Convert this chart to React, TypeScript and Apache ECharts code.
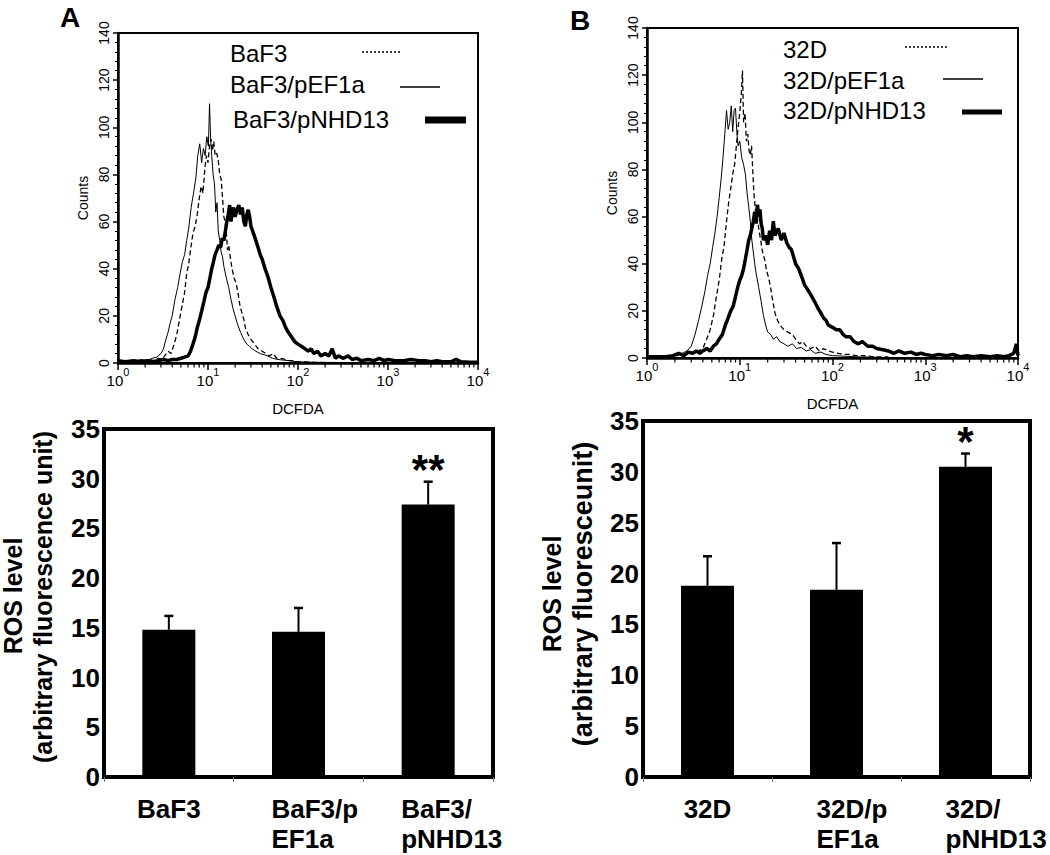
import React, { useEffect, useRef } from "react";
import * as echarts from "echarts";

// ---------- Panel A histogram (DCFDA, log scale) ----------
const histA_BaF3: number[][] = [
  [1.0, 1], [1.3, 0.5], [1.6, 1], [1.9, 0.5], [2.2, 1.5], [2.5, 1], [2.8, 2], [3.1, 1.5], [3.3, 3],
  [3.6, 5], [3.9, 4], [4.2, 8], [4.5, 12], [4.8, 18], [5.2, 25], [5.5, 30], [5.8, 38], [6.1, 42],
  [6.4, 48], [6.8, 55], [7.2, 58], [7.6, 63], [8.0, 70], [8.4, 75], [8.8, 72], [9.2, 82], [9.6, 88],
  [10.0, 85], [10.4, 92], [10.8, 95], [11.2, 90], [11.6, 94], [12.0, 88], [12.5, 89], [13.0, 86],
  [13.5, 80], [14.0, 78], [14.5, 70], [15.0, 62], [15.5, 60], [16.0, 55], [16.5, 48], [17.0, 50],
  [17.5, 46], [18.5, 40], [19.5, 36], [20.5, 34], [21.5, 30], [22.5, 25], [23.5, 22], [24.5, 20],
  [26, 15], [28, 12], [30, 10], [33, 8], [36, 6], [40, 5], [44, 4], [48, 3], [53, 4], [58, 2],
  [65, 2], [72, 1.5], [80, 1], [90, 1], [100, 0.5], [120, 0.5], [150, 0.3], [200, 0.2], [400, 0.2]
];
const histA_pEF1a: number[][] = [
  [1.0, 0.5], [1.2, 1], [1.5, 0.5], [1.8, 1.5], [2.1, 1], [2.4, 2], [2.7, 2.5], [3.0, 4], [3.2, 6],
  [3.4, 10], [3.6, 13], [3.8, 17], [4.0, 20], [4.3, 27], [4.6, 32], [4.9, 38], [5.2, 43], [5.5, 46],
  [5.8, 52], [6.1, 57], [6.5, 66], [6.9, 72], [7.3, 78], [7.7, 88], [8.1, 93], [8.5, 85], [8.9, 91],
  [9.3, 88], [9.7, 96], [10.1, 92], [10.4, 110], [10.7, 95], [11.0, 88], [11.4, 80], [11.8, 76],
  [12.2, 64], [12.6, 68], [13.0, 56], [13.5, 52], [14.0, 47], [14.5, 45], [15.0, 41], [16, 36],
  [17, 32], [18, 27], [19, 23], [20, 20], [21.5, 16], [23, 13], [25, 10], [27, 8], [29, 7], [31, 6],
  [34, 5], [38, 4], [42, 3.5], [46, 3], [52, 2], [60, 1.5], [70, 1.2], [80, 1], [100, 0.5],
  [150, 0.3], [300, 0.2]
];
const histA_pNHD13: number[][] = [
  [1.0, 1], [1.2, 0.5], [1.5, 1], [1.8, 0.5], [2.1, 1], [2.4, 0.5], [2.8, 1], [3.2, 1.5], [3.6, 1],
  [4.0, 1.5], [4.5, 1.5], [5.0, 2], [5.5, 2.5], [6.0, 3], [6.4, 5], [6.8, 8], [7.2, 11], [7.6, 15],
  [8.0, 18], [8.5, 22], [9.0, 26], [9.5, 30], [10.0, 32], [10.5, 36], [11.0, 40], [11.5, 43],
  [12.0, 46], [12.6, 48], [13.2, 50], [13.8, 49], [14.4, 53], [15.0, 52], [15.6, 56], [16.2, 60],
  [16.8, 63], [17.4, 67], [18.0, 60], [18.6, 64], [19.2, 66], [20, 62], [21, 65], [22, 67], [23, 63],
  [24, 66], [25, 60], [26, 58], [27, 63], [28, 65], [29, 62], [30, 58], [32, 55], [34, 52], [36, 49],
  [38, 46], [40, 44], [43, 40], [46, 37], [50, 32], [54, 28], [58, 24], [63, 20], [68, 18], [73, 15],
  [78, 13], [85, 11], [92, 9], [100, 8], [110, 7], [120, 6], [130, 5], [140, 6], [150, 4], [165, 5],
  [180, 3], [200, 4], [220, 3], [240, 6], [260, 2], [280, 3], [320, 2], [360, 3], [400, 1.5],
  [450, 2], [500, 1], [600, 1.5], [700, 1], [800, 2], [900, 1], [1000, 1.5], [1200, 1], [1500, 1],
  [1800, 1.5], [2200, 1], [2600, 1], [3000, 0.5], [3500, 1], [4000, 0.5], [5000, 0.5], [5700, 1.5],
  [6500, 0.5], [8000, 0.3], [10000, 0.3]
];

// ---------- Panel B histogram ----------
const histB_32D: number[][] = [
  [1.3, 0.5], [1.6, 0.5], [2.0, 1], [2.4, 1], [2.8, 2], [3.2, 2], [3.6, 3], [4.0, 4], [4.4, 8],
  [4.8, 12], [5.2, 18], [5.6, 26], [6.0, 33], [6.4, 42], [6.8, 48], [7.2, 58], [7.6, 66], [8.0, 72],
  [8.4, 78], [8.8, 82], [9.2, 90], [9.6, 98], [10.0, 104], [10.4, 112], [10.7, 122], [11.0, 100],
  [11.4, 104], [11.8, 92], [12.2, 95], [12.6, 88], [13.0, 86], [13.4, 90], [13.8, 80], [14.2, 70],
  [14.8, 62], [15.4, 60], [16.0, 55], [16.8, 50], [17.6, 45], [18.5, 42], [19.5, 37], [20.5, 34],
  [21.5, 30], [22.5, 25], [24, 19], [25.5, 16], [27, 14], [30, 12], [33, 11], [37, 10], [40, 8],
  [44, 6], [48, 7], [52, 5], [58, 4], [65, 5], [72, 3], [80, 4], [90, 3], [100, 2.5], [115, 2],
  [130, 1.5], [150, 1.5], [180, 1], [220, 1], [300, 0.5], [400, 0.5]
];
const histB_pEF1a: number[][] = [
  [1.0, 0], [1.5, 0.5], [1.8, 1], [2.1, 1.5], [2.4, 2], [2.7, 3], [3.0, 5], [3.3, 10], [3.6, 16],
  [3.9, 22], [4.2, 28], [4.5, 35], [4.8, 40], [5.1, 47], [5.4, 53], [5.7, 60], [6.0, 68], [6.3, 76],
  [6.6, 85], [6.9, 95], [7.2, 105], [7.5, 97], [7.8, 100], [8.1, 107], [8.4, 96], [8.7, 105],
  [9.0, 106], [9.3, 96], [9.6, 90], [10.0, 92], [10.5, 85], [11.0, 82], [11.5, 78], [12.0, 70],
  [12.5, 64], [13.0, 58], [13.5, 50], [14.0, 45], [14.5, 40], [15.0, 36], [16, 30], [17, 24],
  [18, 18], [19, 14], [20, 11], [21.5, 10], [23, 8], [25, 9], [27, 7], [30, 6], [33, 5], [37, 6],
  [41, 4], [46, 4.5], [52, 3], [58, 3.5], [65, 2], [75, 2.5], [85, 1.5], [100, 1], [130, 0.8],
  [180, 0.5], [300, 0.3]
];
const histB_pNHD13: number[][] = [
  [1.0, 0.5], [1.3, 0.5], [1.6, 0.5], [1.9, 1], [2.2, 2], [2.5, 1], [2.8, 2.5], [3.1, 2], [3.4, 3],
  [3.7, 2], [4.0, 3], [4.4, 4], [4.8, 3], [5.2, 5], [5.6, 6], [6.0, 8], [6.5, 10], [7.0, 14],
  [7.5, 17], [8.0, 20], [8.5, 22], [9.0, 26], [9.5, 30], [10.0, 33], [10.5, 35], [11.0, 38],
  [11.5, 42], [12.0, 46], [12.5, 50], [13.0, 52], [13.5, 55], [14.0, 58], [14.5, 62], [15.0, 57],
  [15.5, 65], [16.0, 60], [16.5, 63], [17.0, 57], [17.5, 55], [18.0, 50], [19, 52], [20, 48],
  [21, 54], [22, 50], [23, 58], [24, 52], [26, 55], [28, 50], [30, 53], [32, 49], [34, 47],
  [36, 46], [38, 43], [40, 40], [43, 38], [46, 35], [50, 31], [54, 29], [58, 27], [62, 25],
  [66, 23], [70, 21], [75, 19], [80, 17], [85, 16], [90, 14], [100, 13], [110, 12], [120, 12],
  [130, 10], [140, 9], [155, 9], [170, 7], [190, 6], [210, 7], [240, 5], [270, 5], [300, 4],
  [350, 3.5], [400, 3], [460, 2], [520, 3], [600, 2], [700, 2.5], [800, 1.5], [900, 2], [1000, 1.5],
  [1200, 1], [1400, 1.5], [1700, 1], [2000, 1.5], [2400, 0.5], [2800, 1], [3300, 0.5], [4000, 1],
  [5000, 0.5], [6000, 1], [7000, 0.5], [8000, 1], [9000, 2], [9600, 6], [10000, 1]
];

// log-axis minor tick positions (2..9 of each decade)
const logMinorTicks = [
  2, 3, 4, 5, 6, 7, 8, 9, 20, 30, 40, 50, 60, 70, 80, 90,
  200, 300, 400, 500, 600, 700, 800, 900, 2000, 3000, 4000, 5000, 6000, 7000, 8000, 9000
];

// ---------- Bar charts ----------
const barCatsA = ["BaF3", "BaF3/p\nEF1a", "BaF3/\npNHD13"];
const barValsA = [14.8, 14.6, 27.4];
const barErrA = [1.4, 2.4, 2.3];
const barSigA = ["", "", "**"];

const barCatsB = ["32D", "32D/p\nEF1a", "32D/\npNHD13"];
const barValsB = [18.8, 18.4, 30.5];
const barErrB = [2.9, 4.6, 1.3];
const barSigB = ["", "", "*"];

const legendA = ["BaF3", "BaF3/pEF1a", "BaF3/pNHD13"];
const legendB = ["32D", "32D/pEF1a", "32D/pNHD13"];

const SANS = '"Liberation Sans", Arial, Helvetica, sans-serif';

function histXAxis(gridIndex: number) {
  return {
    type: "log",
    logBase: 10,
    gridIndex,
    min: 1,
    max: 10000,
    name: "DCFDA",
    nameLocation: "middle",
    nameGap: 38,
    nameTextStyle: { fontFamily: SANS, fontSize: 15, color: "#000" },
    axisLine: { show: true, onZero: false, lineStyle: { color: "#000", width: 2.5 } },
    axisTick: { show: true, length: 7, lineStyle: { color: "#000", width: 1.5 } },
    splitLine: { show: false },
    axisLabel: {
      margin: 3,
      color: "#000",
      formatter: (v: number) => `{b|10}{s|${Math.round(Math.log10(v))}}`,
      rich: {
        b: { fontFamily: SANS, fontSize: 15, color: "#000", lineHeight: 22, verticalAlign: "bottom" },
        s: { fontFamily: SANS, fontSize: 11, color: "#000", lineHeight: 12, verticalAlign: "top" }
      }
    }
  };
}

function histYAxis(gridIndex: number) {
  return {
    type: "value",
    gridIndex,
    min: 0,
    max: 140,
    interval: 20,
    name: "Counts",
    nameLocation: "middle",
    nameGap: 28,
    nameRotate: 90,
    nameTextStyle: { fontFamily: SANS, fontSize: 14, color: "#000" },
    axisLine: { show: true, lineStyle: { color: "#000", width: 2.5 } },
    axisTick: { show: true, length: 5, lineStyle: { color: "#000", width: 1.5 } },
    minorTick: { show: true, splitNumber: 5, length: 3, lineStyle: { color: "#000", width: 1 } },
    splitLine: { show: false },
    axisLabel: { rotate: 90, margin: 7, fontFamily: SANS, fontSize: 14, color: "#000" }
  };
}

function barXAxis(gridIndex: number, cats: string[], w: number) {
  return {
    type: "category",
    gridIndex,
    data: cats,
    axisLine: { show: false },
    axisTick: { show: true, length: 5, lineStyle: { color: "#777", width: 1 } },
    axisLabel: {
      margin: 17,
      color: "#000",
      formatter: (v: string) =>
        v.indexOf("\n") >= 0
          ? v.split("\n").map((l) => `{l|${l}}`).join("\n")
          : `{c|${v}}`,
      rich: {
        l: { width: w, align: "left", fontFamily: SANS, fontWeight: "bold", fontSize: 26, lineHeight: 30, color: "#000" },
        c: { fontFamily: SANS, fontWeight: "bold", fontSize: 26, lineHeight: 30, color: "#000" }
      }
    }
  };
}

function barYAxis(gridIndex: number) {
  return {
    type: "value",
    gridIndex,
    min: 0,
    max: 35,
    interval: 5,
    axisLine: { show: false },
    axisTick: { show: false },
    splitLine: { show: false },
    axisLabel: {
      margin: 4,
      padding: [9, 0, 0, 0],
      fontFamily: SANS,
      fontWeight: "bold",
      fontSize: 26,
      color: "#000"
    }
  };
}

function histLine(data: number[][], xi: number, style: any) {
  return {
    type: "line",
    xAxisIndex: xi,
    yAxisIndex: xi,
    data,
    showSymbol: false,
    symbol: "none",
    lineStyle: { color: "#000", ...style },
    z: 3
  };
}

function minorTickSeries(xi: number) {
  return {
    type: "custom",
    xAxisIndex: xi,
    yAxisIndex: xi,
    data: logMinorTicks.map((v) => [v, 0]),
    silent: true,
    renderItem: (params: any, api: any) => {
      const p = api.coord([api.value(0), 0]);
      return {
        type: "line",
        shape: { x1: p[0], y1: p[1], x2: p[0], y2: p[1] + 4.5 },
        style: { stroke: "#000", lineWidth: 1.2 }
      };
    }
  };
}

function errorSeries(xi: number, vals: number[], errs: number[], sigs: string[]) {
  return {
    type: "custom",
    xAxisIndex: xi,
    yAxisIndex: xi,
    data: vals.map((v, i) => [i, v, errs[i]]),
    silent: true,
    z: 5,
    renderItem: (params: any, api: any) => {
      const base = api.coord([api.value(0), api.value(1)]);
      const top = api.coord([api.value(0), api.value(1) + api.value(2)]);
      const children: any[] = [
        { type: "line", shape: { x1: top[0], y1: base[1], x2: top[0], y2: top[1] }, style: { stroke: "#000", lineWidth: 2 } },
        { type: "line", shape: { x1: top[0] - 4.5, y1: top[1], x2: top[0] + 4.5, y2: top[1] }, style: { stroke: "#000", lineWidth: 2.5 } }
      ];
      const sig = sigs[params.dataIndex];
      if (sig) {
        children.push({
          type: "text",
          x: top[0],
          y: top[1] - 12,
          style: {
            text: sig,
            align: "center",
            verticalAlign: "middle",
            fontFamily: SANS,
            fontWeight: "bold",
            fontSize: 42,
            fill: "#000"
          }
        });
      }
      return { type: "group", children };
    }
  };
}

function txt(x: number, y: number, text: string, size: number, extra: any = {}, rotation = 0) {
  return {
    type: "text",
    x,
    y,
    rotation,
    silent: true,
    style: {
      text,
      fontFamily: SANS,
      fontSize: size,
      fill: "#000",
      align: "left",
      verticalAlign: "middle",
      ...extra
    }
  };
}

function seg(x1: number, y1: number, x2: number, y2: number, w: number, dash?: number[]) {
  return {
    type: "line",
    silent: true,
    shape: { x1, y1, x2, y2 },
    style: { stroke: "#000", lineWidth: w, lineDash: dash || null }
  };
}

export default function App() {
  const ref = useRef<HTMLDivElement>(null);
  useEffect(() => {
    if (!ref.current) return;
    const chart = echarts.init(ref.current, null, { renderer: "svg" });
    const option: any = {
      animation: false,
      backgroundColor: "#fff",
      grid: [
        { left: 118, top: 33, width: 360, height: 330, show: true, borderColor: "#000", borderWidth: 2 },
        { left: 647, top: 28, width: 371, height: 330, show: true, borderColor: "#000", borderWidth: 2 },
        { left: 104, top: 429, width: 389, height: 348, show: true, borderColor: "#000", borderWidth: 4 },
        { left: 643, top: 421, width: 387, height: 356, show: true, borderColor: "#000", borderWidth: 4 }
      ],
      xAxis: [histXAxis(0), histXAxis(1), barXAxis(2, barCatsA, 54), barXAxis(3, barCatsB, 40)],
      yAxis: [histYAxis(0), histYAxis(1), barYAxis(2), barYAxis(3)],
      series: [
        histLine(histA_BaF3, 0, { width: 1.3, type: [5, 3] }),
        histLine(histA_pEF1a, 0, { width: 1 }),
        histLine(histA_pNHD13, 0, { width: 3.5 }),
        histLine(histB_32D, 1, { width: 1.3, type: [5, 3] }),
        histLine(histB_pEF1a, 1, { width: 1 }),
        histLine(histB_pNHD13, 1, { width: 3.5 }),
        minorTickSeries(0),
        minorTickSeries(1),
        {
          type: "bar",
          xAxisIndex: 2,
          yAxisIndex: 2,
          data: barValsA,
          barWidth: 53,
          itemStyle: { color: "#000" }
        },
        errorSeries(2, barValsA, barErrA, barSigA),
        {
          type: "bar",
          xAxisIndex: 3,
          yAxisIndex: 3,
          data: barValsB,
          barWidth: 53,
          itemStyle: { color: "#000" }
        },
        errorSeries(3, barValsB, barErrB, barSigB)
      ],
      graphic: [
        txt(60, 17, "A", 28, { fontWeight: "bold" }),
        txt(570, 20, "B", 28, { fontWeight: "bold" }),
        // legend A
        txt(230, 53, legendA[0], 24),
        txt(230, 84, legendA[1], 24),
        txt(233, 119, legendA[2], 24),
        seg(362, 52, 402, 52, 1.5, [2, 2]),
        seg(400, 87, 440, 87, 1.5),
        seg(425, 120, 466, 120, 7),
        // legend B
        txt(783, 49, legendB[0], 24),
        txt(783, 80, legendB[1], 24),
        txt(783, 110, legendB[2], 24),
        seg(905, 47, 948, 47, 1.5, [2, 2]),
        seg(943, 79, 983, 79, 1.5),
        seg(962, 112, 1002, 112, 5),
        // bar chart axis titles
        txt(13, 596, "ROS level", 25, { fontWeight: "bold", align: "center" }, Math.PI / 2),
        txt(43, 597, "(arbitrary fluorescence unit)", 25, { fontWeight: "bold", align: "center" }, Math.PI / 2),
        txt(552, 594, "ROS level", 25, { fontWeight: "bold", align: "center" }, Math.PI / 2),
        txt(583, 594, "(arbitrary fluoresceunit)", 27, { fontWeight: "bold", align: "center" }, Math.PI / 2)
      ]
    };
    chart.setOption(option);
    return () => chart.dispose();
  }, []);
  return (
    <div
      ref={ref}
      style={{ position: "absolute", left: 0, top: 0, width: 1050, height: 855, background: "#fff" }}
    />
  );
}
